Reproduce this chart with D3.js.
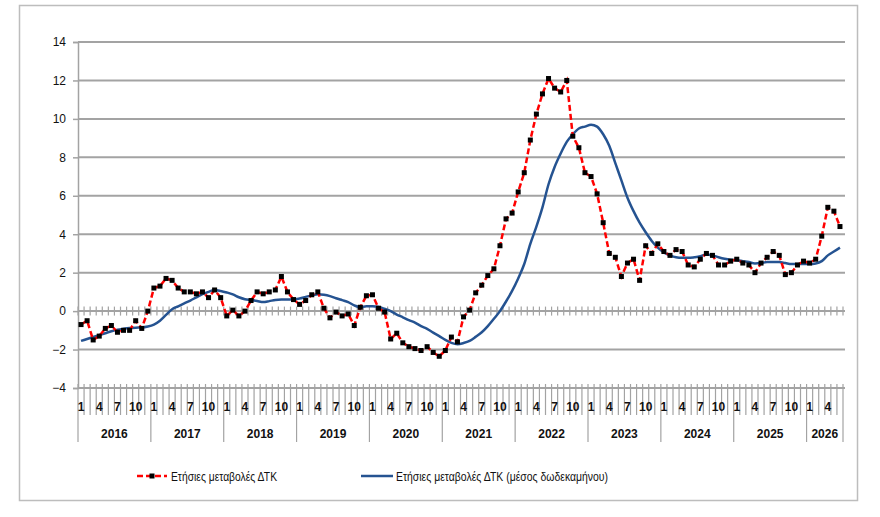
<!DOCTYPE html>
<html>
<head>
<meta charset="utf-8">
<script src="https://cdn.jsdelivr.net/npm/d3@7"></script>
<style>
  body { margin: 0; background: #fff; }
  text { font-family: "Liberation Sans", Arial, sans-serif; }
</style>
</head>
<body>
<div id="chart-area"></div>
<script>
// year groups and month labels shown on the axis
var years = ['2016', '2017', '2018', '2019', '2020', '2021', '2022', '2023', '2024', '2025', '2026'];
var shownMonths = [1, 4, 7, 10];
var yTicks = [-4, -2, 0, 2, 4, 6, 8, 10, 12, 14];

// Ετήσιες μεταβολές ΔΤΚ (monthly, Jan 2016 - Jun 2026)
var annualChange = [
  -0.7, -0.5, -1.5, -1.3, -0.9, -0.75, -1.1, -1.0, -1.0, -0.5, -0.9, 0.0,
  1.2, 1.3, 1.7, 1.6, 1.2, 1.0, 1.0, 0.9, 1.0, 0.7, 1.1, 0.7,
  -0.25, 0.05, -0.25, 0.0, 0.55, 1.0, 0.9, 1.0, 1.1, 1.8, 1.0, 0.6,
  0.35, 0.55, 0.85, 1.0, 0.15, -0.35, -0.05, -0.25, -0.15, -0.75, 0.2, 0.8,
  0.85, 0.15, -0.05, -1.45, -1.15, -1.65, -1.85, -1.95, -2.05, -1.85, -2.15, -2.35,
  -2.05, -1.35, -1.6, -0.3, 0.05, 0.95, 1.35, 1.85, 2.2, 3.4, 4.8, 5.1,
  6.2, 7.2, 8.9, 10.25, 11.3, 12.1, 11.6, 11.4, 12.0, 9.1, 8.5, 7.2,
  7.0, 6.1, 4.6, 3.0, 2.8, 1.8, 2.5, 2.7, 1.6, 3.4, 3.0, 3.5,
  3.1, 2.9, 3.2, 3.1, 2.4, 2.3, 2.7, 3.0, 2.9, 2.4, 2.4, 2.6,
  2.7, 2.5, 2.4, 2.0, 2.5, 2.8, 3.1, 2.9, 1.9, 2.0, 2.4, 2.6,
  2.5, 2.7, 3.9, 5.4, 5.2, 4.4
];

// Ετήσιες μεταβολές ΔΤΚ (μέσος δωδεκαμήνου)
var avg12 = [
  -1.55, -1.45, -1.35, -1.25, -1.15, -1.05, -0.97, -0.92, -0.88, -0.86, -0.85, -0.8,
  -0.7, -0.5, -0.2, 0.1, 0.25, 0.4, 0.55, 0.72, 0.88, 1.0, 1.1, 1.05,
  0.97, 0.87, 0.72, 0.62, 0.58, 0.53, 0.47, 0.52, 0.58, 0.6, 0.6, 0.62,
  0.66, 0.74, 0.82, 0.88, 0.85, 0.78, 0.67, 0.57, 0.47, 0.3, 0.2, 0.25,
  0.25, 0.22, 0.12, 0.0, -0.18, -0.32, -0.47, -0.6, -0.78, -0.92, -1.12, -1.3,
  -1.5, -1.65, -1.72, -1.66, -1.55, -1.34, -1.1, -0.78, -0.4, 0.0, 0.5, 1.05,
  1.7, 2.45, 3.5, 4.4, 5.4, 6.6, 7.5, 8.2, 8.8, 9.2, 9.5, 9.6,
  9.7, 9.6, 9.2, 8.6, 7.7, 6.8, 5.9, 5.2, 4.6, 4.1, 3.65, 3.3,
  3.05, 2.9, 2.8, 2.77, 2.77, 2.8, 2.85, 2.95, 2.9, 2.8, 2.72, 2.67,
  2.65, 2.6, 2.55, 2.48, 2.5, 2.55, 2.55, 2.55, 2.5, 2.45, 2.45, 2.45,
  2.45, 2.48, 2.6, 2.9, 3.1, 3.3
];

var seriesNames = ['Ετήσιες μεταβολές ΔΤΚ', 'Ετήσιες μεταβολές ΔΤΚ (μέσος δωδεκαμήνου)'];

var W = 880, H = 517;
var PLOT = { LEFT: 78, RIGHT: 843, TOP: 42, BOTTOM: 388 };
var GRID = '#a3a3a3';

var svg = d3.select('#chart-area').append('svg')
    .attr('width', W)
    .attr('height', H);

// outer frame
svg.append('rect')
    .attr('x', 19.5).attr('y', 5.5)
    .attr('width', 838).attr('height', 495)
    .attr('fill', 'none')
    .attr('stroke', '#bdbdbd')
    .attr('stroke-width', 1.5);

var idx = d3.range(annualChange.length);

var x = d3.scaleBand()
    .domain(idx)
    .range([PLOT.LEFT, PLOT.RIGHT]);

var y = d3.scaleLinear()
    .domain([-4, 14])
    .range([PLOT.BOTTOM, PLOT.TOP]);

var cx = function(i) { return x(i) + x.bandwidth() / 2; };

// gridlines
svg.append('g')
    .selectAll('line')
    .data(yTicks)
    .enter().append('line')
    .attr('x1', PLOT.LEFT).attr('x2', PLOT.RIGHT + 2)
    .attr('y1', d => y(d)).attr('y2', d => y(d))
    .attr('stroke', GRID)
    .attr('stroke-width', 2);

// y axis
var yAxis = svg.append('g')
    .attr('transform', `translate(${PLOT.LEFT}, 0)`)
    .call(d3.axisLeft(y).tickValues(yTicks).tickSize(5).tickPadding(7));
yAxis.select('.domain').attr('stroke', GRID).attr('stroke-width', 1.5);
yAxis.selectAll('.tick line').attr('stroke', GRID).attr('stroke-width', 1.5);
yAxis.selectAll('.tick text')
    .attr('font-size', '12px')
    .attr('font-family', '"Liberation Sans", Arial, sans-serif')
    .attr('fill', '#111');

// category boundaries (every month)
var bounds = d3.range(annualChange.length + 1).map(k => k === annualChange.length ? PLOT.RIGHT : x(k));

// cross ticks on the zero line
svg.append('g')
    .selectAll('line')
    .data(bounds)
    .enter().append('line')
    .attr('x1', d => d).attr('x2', d => d)
    .attr('y1', y(0) - 4.5).attr('y2', y(0) + 4.5)
    .attr('stroke', GRID)
    .attr('stroke-width', 1.2);

// month separators below the plot
svg.append('g')
    .selectAll('line')
    .data(bounds)
    .enter().append('line')
    .attr('x1', d => d).attr('x2', d => d)
    .attr('y1', PLOT.BOTTOM - 4)
    .attr('y2', (d, k) => (k % 12 === 0 || k === annualChange.length) ? 442 : 415)
    .attr('stroke', GRID)
    .attr('stroke-width', 1.2);

// month labels
svg.append('g')
    .selectAll('text')
    .data(idx.filter(i => shownMonths.indexOf(i % 12 + 1) >= 0))
    .enter().append('text')
    .attr('x', d => cx(d))
    .attr('y', 411)
    .attr('text-anchor', 'middle')
    .attr('font-size', '12px')
    .attr('font-weight', 'bold')
    .attr('fill', '#111')
    .text(d => String(d % 12 + 1));

// year labels
svg.append('g')
    .selectAll('text')
    .data(years)
    .enter().append('text')
    .attr('x', (d, k) => {
        var first = k * 12;
        var last = Math.min(first + 11, annualChange.length - 1);
        return (x(first) + x(last) + x.bandwidth()) / 2;
    })
    .attr('y', 438)
    .attr('text-anchor', 'middle')
    .attr('font-size', '12px')
    .attr('font-weight', 'bold')
    .attr('fill', '#111')
    .text(d => d);

// 12-month average line
var line = d3.line().x((d, i) => cx(i)).y(d => y(d)).curve(d3.curveMonotoneX);

svg.append('path')
    .datum(avg12)
    .attr('d', line)
    .attr('fill', 'none')
    .attr('stroke', '#255391')
    .attr('stroke-width', 2.5);

// annual change line (dashed) with markers
svg.append('path')
    .datum(annualChange)
    .attr('d', d3.line().x((d, i) => cx(i)).y(d => y(d)))
    .attr('fill', 'none')
    .attr('stroke', '#ff0000')
    .attr('stroke-width', 2.5)
    .attr('stroke-dasharray', '6,3');

svg.append('g')
    .selectAll('rect')
    .data(annualChange)
    .enter().append('rect')
    .attr('x', (d, i) => cx(i) - 2.5)
    .attr('y', d => y(d) - 2.5)
    .attr('width', 5).attr('height', 5)
    .attr('fill', '#000');

// legend
var lg = svg.append('g');
lg.append('line')
    .attr('x1', 137).attr('x2', 167).attr('y1', 476).attr('y2', 476)
    .attr('stroke', '#ff0000').attr('stroke-width', 2.5)
    .attr('stroke-dasharray', '6,3');
lg.append('rect')
    .attr('x', 149.5).attr('y', 473.5).attr('width', 5).attr('height', 5)
    .attr('fill', '#000');
lg.append('text')
    .attr('x', 171).attr('y', 480.5)
    .attr('font-size', '12.5px').attr('fill', '#111')
    .attr('textLength', 106).attr('lengthAdjust', 'spacingAndGlyphs')
    .text(seriesNames[0]);
lg.append('line')
    .attr('x1', 361).attr('x2', 393).attr('y1', 476).attr('y2', 476)
    .attr('stroke', '#255391').attr('stroke-width', 2.5);
lg.append('text')
    .attr('x', 396).attr('y', 480.5)
    .attr('font-size', '12.5px').attr('fill', '#111')
    .attr('textLength', 212).attr('lengthAdjust', 'spacingAndGlyphs')
    .text(seriesNames[1]);
</script>
</body>
</html>
